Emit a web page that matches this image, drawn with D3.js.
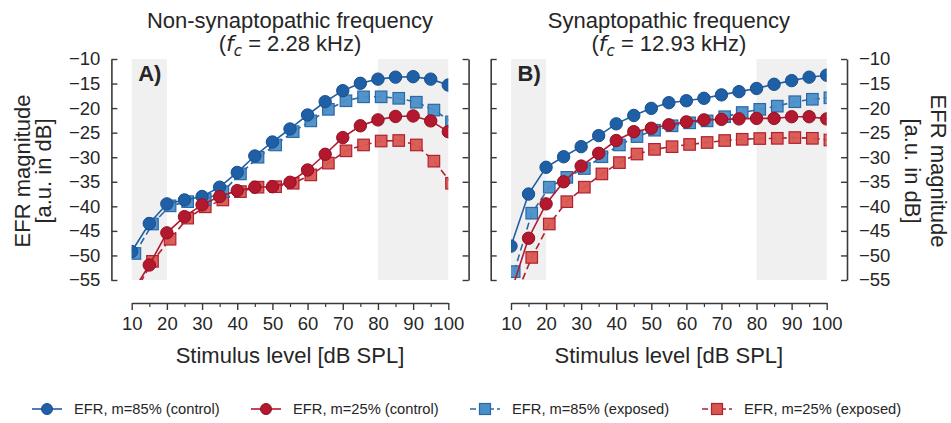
<!DOCTYPE html>
<html>
<head>
<meta charset="utf-8">
<script src="https://cdn.jsdelivr.net/npm/d3@7"></script>
<style>
  html, body { margin: 0; padding: 0; background: #fff; }
  svg { display: block; font-family: "Liberation Sans", Arial, sans-serif; }
</style>
</head>
<body>
<svg id="chart" width="951" height="423"></svg>
<script>
// Stimulus levels (dB SPL)
const levels = [10, 15, 20, 25, 30, 35, 40, 45, 50, 55, 60, 65, 70, 75, 80, 85, 90, 95, 100];

// EFR magnitude (dB), non-synaptopathic frequency (fc = 2.28 kHz)
const nsControl85 = [-49.2, -43.5, -39.5, -38.7, -38.0, -36.1, -33.1, -29.75, -26.9, -24.25, -21.4, -18.7, -16.45, -14.95, -14.1, -13.7, -13.6, -14.1, -15.3];
const nsControl25 = [-57.7, -51.95, -45.4, -42.1, -39.7, -38.0, -36.8, -36.1, -36.0, -35.1, -32.6, -29.4, -26.0, -23.6, -22.4, -21.7, -21.6, -22.6, -24.8];
const nsExposed85 = [-49.6, -43.6, -39.9, -39.05, -38.6, -37.0, -33.4, -30.0, -27.5, -24.8, -22.6, -20.25, -18.5, -17.7, -17.7, -18.0, -18.8, -20.4, -22.8];
const nsExposed25 = [-57.5, -51.2, -46.7, -42.4, -40.1, -38.7, -37.0, -36.1, -36.0, -35.3, -33.6, -31.2, -28.7, -27.5, -26.7, -26.6, -27.5, -30.8, -35.3];

// EFR magnitude (dB), synaptopathic frequency (fc = 12.93 kHz)
const sControl85 = [-48.1, -37.5, -32.05, -29.9, -27.85, -25.6, -23.2, -21.5, -20.05, -18.9, -18.5, -18.0, -17.3, -16.65, -16.0, -15.15, -14.4, -13.7, -13.3];
const sControl25 = [-57.5, -46.5, -39.5, -35.0, -31.8, -29.2, -26.6, -24.8, -24.1, -23.4, -22.8, -22.4, -22.3, -22.2, -22.1, -22.1, -21.75, -21.75, -22.2];
const sExposed85 = [-53.3, -41.4, -36.1, -34.1, -32.3, -29.9, -27.5, -25.8, -24.5, -23.6, -23.0, -22.6, -21.75, -20.9, -20.25, -19.6, -18.7, -18.2, -17.9];
const sExposed25 = [-59.0, -50.4, -43.6, -39.05, -36.1, -33.4, -31.1, -29.35, -28.4, -27.85, -27.4, -27.0, -26.6, -26.35, -26.2, -26.15, -26.0, -26.15, -26.5];

// Axis ticks and shaded level ranges
const yTicks = [-55, -50, -45, -40, -35, -30, -25, -20, -15, -10];
const xTicks = [10, 20, 30, 40, 50, 60, 70, 80, 90, 100];
const xMinorTicks = [15, 25, 35, 45, 55, 65, 75, 85, 95];
const shadedRanges = [[10, 20], [80, 100]];

const panelTitles = [
  { line1: "Non-synaptopathic frequency", fc: "2.28" },
  { line1: "Synaptopathic frequency", fc: "12.93" }
];
const panelLetters = ["A)", "B)"];
const seriesNames = ["EFR, m=85% (control)", "EFR, m=25% (control)", "EFR, m=85% (exposed)", "EFR, m=25% (exposed)"];

// Series styling
const styles = {
  c85: { fill: "#1f5fa6", stroke: "#1a4f8c", line: "#1f5fa6", shape: "circle", dash: null },
  c25: { fill: "#b3182e", stroke: "#8e1222", line: "#b3182e", shape: "circle", dash: null },
  e85: { fill: "#4a8fc8", stroke: "#2a68a8", line: "#2a68a8", shape: "square", dash: "7,4" },
  e25: { fill: "#d95650", stroke: "#b0202f", line: "#b0202f", shape: "square", dash: "7,4" }
};

const panels = [
  { x0: 131.7, x1: 448.3, series: { c85: nsControl85, c25: nsControl25, e85: nsExposed85, e25: nsExposed25 } },
  { x0: 511.0, x1: 826.7, series: { c85: sControl85, c25: sControl25, e85: sExposed85, e25: sExposed25 } }
];

const plotTop = 59, plotBottom = 280;
const xAxisY = 303;
const spineOffset = 20.3;
const exposedShift = 3.2;   // exposed markers are nudged right so both sets stay visible
const textColor = "#262626";
const spineColor = "#3a3a3a";

const svg = d3.select("#chart");
const y = d3.scaleLinear().domain([-55, -10]).range([plotBottom, plotTop]);

panels.forEach((p, i) => {
  const x = d3.scaleLinear().domain([10, 100]).range([p.x0, p.x1]);
  const g = svg.append("g");
  const clipId = "clip" + i;
  svg.append("defs").append("clipPath").attr("id", clipId)
    .append("rect").attr("x", p.x0).attr("y", plotTop)
    .attr("width", p.x1 - p.x0).attr("height", plotBottom - plotTop);

  // shaded level ranges
  g.selectAll("rect.shade").data(shadedRanges).join("rect")
    .attr("class", "shade")
    .attr("x", d => x(d[0])).attr("width", d => x(d[1]) - x(d[0]))
    .attr("y", plotTop).attr("height", plotBottom - plotTop)
    .attr("fill", "#f0f0f0");

  const plot = g.append("g").attr("clip-path", `url(#${clipId})`);

  const drawSeries = (key) => {
    const st = styles[key];
    const vals = p.series[key];
    const dx = st.shape === "square" ? exposedShift : 0;
    const pts = levels.map((l, k) => [x(l) + dx, y(vals[k])]);
    plot.append("path")
      .attr("d", d3.line()(pts))
      .attr("fill", "none")
      .attr("stroke", st.line)
      .attr("stroke-width", 1.6)
      .attr("stroke-dasharray", st.dash);
    if (st.shape === "circle") {
      plot.append("g").selectAll("circle").data(pts).join("circle")
        .attr("cx", d => d[0]).attr("cy", d => d[1]).attr("r", 6.2)
        .attr("fill", st.fill).attr("stroke", st.stroke).attr("stroke-width", 1);
    } else {
      const s = 11.5;
      plot.append("g").selectAll("rect").data(pts).join("rect")
        .attr("x", d => d[0] - s / 2).attr("y", d => d[1] - s / 2)
        .attr("width", s).attr("height", s)
        .attr("fill", st.fill).attr("fill-opacity", 0.95)
        .attr("stroke", st.stroke).attr("stroke-width", 1.2);
    }
  };
  ["e25", "e85", "c85", "c25"].forEach(drawSeries);

  // spines and ticks
  const styleAxis = (sel) => {
    sel.select(".domain").attr("stroke", spineColor).attr("stroke-width", 1.6);
    sel.selectAll(".tick line").attr("stroke", spineColor).attr("stroke-width", 1.4);
    sel.selectAll(".tick text").attr("fill", textColor).style("font-size", "18.5px")
      .style("font-family", '"Liberation Sans", Arial, sans-serif');
  };

  const leftX = p.x0 - spineOffset;
  const rightX = p.x1 + spineOffset;

  // left spine
  const leftAxis = (i === 0)
    ? d3.axisLeft(y).tickValues(yTicks).tickSizeInner(-6).tickSizeOuter(0).tickPadding(11)
    : d3.axisRight(y).tickValues(yTicks).tickSizeInner(6).tickSizeOuter(0).tickFormat("");
  g.append("g").attr("transform", `translate(${leftX},0)`).call(leftAxis).call(styleAxis);

  // right spine
  const rightAxis = (i === 1)
    ? d3.axisRight(y).tickValues(yTicks).tickSizeInner(-6).tickSizeOuter(0).tickPadding(12)
    : d3.axisLeft(y).tickValues(yTicks).tickSizeInner(6).tickSizeOuter(0).tickFormat("");
  g.append("g").attr("transform", `translate(${rightX},0)`).call(rightAxis).call(styleAxis);

  // bottom axis
  g.append("g").attr("transform", `translate(0,${xAxisY})`)
    .call(d3.axisBottom(x).tickValues(xTicks).tickSizeInner(7).tickSizeOuter(0).tickPadding(7).tickFormat(d3.format("d")))
    .call(styleAxis);
  const minor = g.append("g").attr("transform", `translate(0,${xAxisY})`)
    .call(d3.axisBottom(x).tickValues(xMinorTicks).tickSizeInner(4).tickSizeOuter(0).tickFormat(""));
  minor.select(".domain").remove();
  minor.selectAll(".tick line").attr("stroke", spineColor).attr("stroke-width", 1.2);

  const cx = (p.x0 + p.x1) / 2;

  // x label
  g.append("text").attr("x", cx).attr("y", 363).attr("text-anchor", "middle")
    .attr("fill", textColor).style("font-size", "22px").text("Stimulus level [dB SPL]");

  // title
  const t = panelTitles[i];
  g.append("text").attr("x", cx).attr("y", 28).attr("text-anchor", "middle")
    .attr("fill", textColor).style("font-size", "22px").text(t.line1);
  const t2 = g.append("text").attr("x", cx).attr("y", 51).attr("text-anchor", "middle")
    .attr("fill", textColor).style("font-size", "22px");
  t2.append("tspan").text("(");
  t2.append("tspan").style("font-family", '"DejaVu Sans", sans-serif').style("font-style", "italic").text("f");
  t2.append("tspan").attr("dy", 5).style("font-family", '"DejaVu Sans", sans-serif')
    .style("font-style", "italic").style("font-size", "15px").text("c");
  t2.append("tspan").attr("dy", -5).text(" = " + t.fc + " kHz)");

  // panel letter
  g.append("text").attr("x", p.x0 + 6.5).attr("y", 81)
    .attr("fill", textColor).style("font-size", "22px").style("font-weight", "bold")
    .text(panelLetters[i]);
});

// y labels
const yMid = 171;
svg.append("text").attr("transform", `translate(30,${yMid}) rotate(-90)`).attr("text-anchor", "middle")
  .attr("fill", textColor).style("font-size", "22px").text("EFR magnitude");
svg.append("text").attr("transform", `translate(51,${yMid}) rotate(-90)`).attr("text-anchor", "middle")
  .attr("fill", textColor).style("font-size", "22px").text("[a.u. in dB]");
svg.append("text").attr("transform", `translate(931,${yMid}) rotate(90)`).attr("text-anchor", "middle")
  .attr("fill", textColor).style("font-size", "22px").text("EFR magnitude");
svg.append("text").attr("transform", `translate(905,${yMid}) rotate(90)`).attr("text-anchor", "middle")
  .attr("fill", textColor).style("font-size", "22px").text("[a.u. in dB]");

// legend
const legendKeys = ["c85", "c25", "e85", "e25"];
const legendTextX = [74, 293, 512, 744];
const legendY = 409;
const leg = svg.append("g");
legendKeys.forEach((k, i) => {
  const st = styles[k];
  const tx = legendTextX[i];
  const mx = tx - 27;
  leg.append("line").attr("x1", mx - 15).attr("x2", mx + 15).attr("y1", legendY).attr("y2", legendY)
    .attr("stroke", st.line).attr("stroke-width", 1.6).attr("stroke-dasharray", st.dash ? "6,3" : null);
  if (st.shape === "circle") {
    leg.append("circle").attr("cx", mx).attr("cy", legendY).attr("r", 5.5)
      .attr("fill", st.fill).attr("stroke", st.stroke);
  } else {
    leg.append("rect").attr("x", mx - 5.5).attr("y", legendY - 5.5).attr("width", 11).attr("height", 11)
      .attr("fill", st.fill).attr("stroke", st.stroke).attr("stroke-width", 1.2);
  }
  leg.append("text").attr("x", tx).attr("y", legendY + 5).attr("fill", textColor)
    .style("font-size", "14.7px").text(seriesNames[i]);
});
</script>
</body>
</html>
